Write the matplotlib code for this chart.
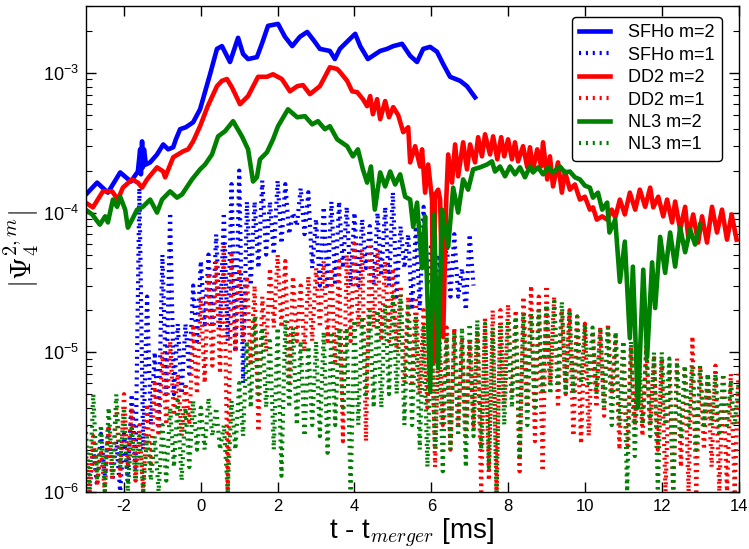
import numpy as np
import matplotlib
matplotlib.use('Agg')
import matplotlib.pyplot as plt

plt.rcParams['font.family'] = ['Liberation Sans', 'DejaVu Sans']
plt.rcParams['axes.unicode_minus'] = False

# ---- m=2 modes (t - t_merger in ms, |Psi4| amplitude) ----
sfho2_t = [-2.99, -2.70, -2.42, -2.10, -1.82, -1.64, -1.58, -1.56, -1.53, -1.51, -1.48, -1.43,
           -1.32, -1.14, -0.98, -0.85, -0.72, -0.65, -0.54, -0.39, -0.20, -0.02,
           0.24, 0.42, 0.55, 0.76, 0.97, 1.10, 1.23, 1.46, 1.59, 1.75,
           2.01, 2.19, 2.38, 2.58, 2.77, 2.95, 3.10, 3.36, 3.49, 3.62,
           3.83, 3.94, 4.02, 4.15, 4.35, 4.48, 4.67, 4.85, 5.01, 5.24,
           5.45, 5.63, 5.79, 5.97, 6.15, 6.31, 6.49, 6.75, 6.93, 7.14]
sfho2_a = [1.35e-4, 1.64e-4, 1.39e-4, 1.94e-4, 1.67e-4, 1.97e-4, 2.84e-4, 1.88e-4, 3.24e-4, 2.11e-4, 2.84e-4, 2.21e-4,
           2.29e-4, 2.61e-4, 3.08e-4, 2.84e-4, 2.94e-4, 3.35e-4, 3.96e-4, 4.09e-4, 4.44e-4, 5.5e-4,
           9.8e-4, 1.49e-3, 1.56e-3, 1.20e-3, 1.79e-3, 1.37e-3, 1.26e-3, 1.30e-3, 1.62e-3, 2.18e-3,
           2.25e-3, 1.82e-3, 1.56e-3, 1.82e-3, 1.97e-3, 1.70e-3, 1.49e-3, 1.44e-3, 1.26e-3, 1.49e-3,
           1.70e-3, 1.82e-3, 1.91e-3, 1.56e-3, 1.26e-3, 1.33e-3, 1.44e-3, 1.49e-3, 1.56e-3, 1.62e-3,
           1.33e-3, 1.20e-3, 1.49e-3, 1.54e-3, 1.42e-3, 1.16e-3, 9.4e-4, 8.8e-4, 8.05e-4, 6.7e-4]

dd22_t = [-3.00, -2.81, -2.55, -2.31, -2.16, -2.03, -1.79, -1.64, -1.53, -1.40,
          -1.14, -0.98, -0.93, -0.72, -0.46, -0.33, -0.20, -0.02, 0.18, 0.42,
          0.55, 0.68, 0.81, 1.02, 1.23, 1.49, 1.72, 1.88, 2.11, 2.32,
          2.51, 2.66, 2.84, 3.10, 3.36, 3.55, 3.62, 3.81, 3.94, 4.07,
          4.22, 4.33, 4.41, 4.48, 4.59, 4.67, 4.80, 4.90, 5.01, 5.14,
          5.27, 5.40, 5.45, 5.58, 5.71, 5.76, 5.84, 5.92, 6.02, 6.05,
          6.10, 6.18, 6.23, 6.31, 6.39, 6.44, 6.54, 6.62, 6.70, 6.83,
          6.93, 7.01, 7.14, 7.22, 7.32, 7.40, 7.53, 7.61, 7.72, 7.82,
          7.90, 8.00, 8.10, 8.18, 8.26, 8.39, 8.50, 8.57, 8.65, 8.76,
          8.86, 8.91, 9.02, 9.09, 9.17, 9.30, 9.40, 9.48, 9.61, 9.74,
          9.87, 10.00, 10.13, 10.21, 10.31, 10.45, 10.58, 10.70, 10.79, 10.91,
          11.04, 11.17, 11.31, 11.43, 11.57, 11.70, 11.78, 11.91, 12.04, 12.14,
          12.27, 12.35, 12.48, 12.61, 12.69, 12.82, 12.95, 13.05, 13.18, 13.31,
          13.44, 13.57, 13.70, 13.82, 13.95]
dd22_a = [1.18e-4, 1.09e-4, 1.42e-4, 1.42e-4, 1.24e-4, 1.51e-4, 1.73e-4, 1.64e-4, 1.51e-4, 1.73e-4,
          2.11e-4, 1.97e-4, 1.79e-4, 2.49e-4, 2.75e-4, 2.84e-4, 3.24e-4, 4.16e-4, 5.79e-4, 8.05e-4,
          8.8e-4, 9.06e-4, 7.9e-4, 5.98e-4, 6.84e-4, 9.4e-4, 9.4e-4, 9.8e-4, 9.06e-4, 7.4e-4,
          8.05e-4, 8.2e-4, 7.06e-4, 8.05e-4, 1.10e-3, 1.07e-3, 1.02e-3, 8.8e-4, 7.4e-4, 7.3e-4,
          6.5e-4, 5.79e-4, 6.84e-4, 5.07e-4, 6.5e-4, 4.67e-4, 6.3e-4, 4.82e-4, 5.7e-4, 4.99e-4,
          3.77e-4, 4.09e-4, 2.29e-4, 2.99e-4, 2.14e-4, 2.84e-4, 1.39e-4, 2.21e-4, 1.24e-4, 8.3e-6,
          1.35e-4, 1.46e-4, 1.24e-4, 1.28e-5, 1.24e-4, 2.61e-4, 1.64e-4, 3.08e-4, 1.82e-4, 3.19e-4,
          2.04e-4, 3.08e-4, 2.29e-4, 3.47e-4, 2.53e-4, 3.64e-4, 2.61e-4, 3.52e-4, 2.41e-4, 3.47e-4,
          2.53e-4, 3.35e-4, 2.41e-4, 3.19e-4, 2.33e-4, 2.99e-4, 2.11e-4, 2.94e-4, 2.04e-4, 2.84e-4,
          2.14e-4, 3.19e-4, 1.73e-4, 2.53e-4, 1.54e-4, 2.29e-4, 1.39e-4, 1.97e-4, 1.46e-4, 1.59e-4,
          1.24e-4, 1.30e-4, 1.05e-4, 1.09e-4, 8.9e-5, 9.4e-5, 8.9e-5, 1.05e-4, 9.2e-5, 1.24e-4,
          9.7e-5, 1.39e-4, 1.05e-4, 1.46e-4, 1.10e-4, 1.51e-4, 1.09e-4, 1.30e-4, 9.4e-5, 1.24e-4,
          8.5e-5, 1.20e-4, 7.55e-5, 1.10e-4, 6.7e-5, 9.7e-5, 6.1e-5, 9.4e-5, 6.1e-5, 1.10e-4,
          7.2e-5, 1.05e-4, 6.4e-5, 9.7e-5, 6.4e-5]

nl32_t = [-3.00, -2.83, -2.63, -2.49, -2.42, -2.29, -2.18, -2.10, -1.97, -1.90,
          -1.79, -1.66, -1.51, -1.32, -1.14, -1.01, -0.80, -0.62, -0.49, -0.23,
          -0.02, 0.11, 0.29, 0.45, 0.63, 0.84, 1.07, 1.23, 1.36, 1.46,
          1.54, 1.72, 1.88, 2.01, 2.27, 2.51, 2.71, 2.90, 3.05, 3.23,
          3.36, 3.55, 3.81, 3.96, 4.09, 4.22, 4.33, 4.43, 4.53, 4.67,
          4.80, 4.93, 5.06, 5.19, 5.32, 5.45, 5.53, 5.63, 5.76, 5.84,
          5.97, 6.07, 6.18, 6.28, 6.44, 6.57, 6.70, 6.83, 6.96, 7.09,
          7.27, 7.45, 7.58, 7.66, 7.79, 7.92, 8.05, 8.18, 8.31, 8.44,
          8.57, 8.65, 8.78, 8.91, 9.05, 9.17, 9.35, 9.48, 9.61, 9.74,
          9.87, 10.00, 10.13, 10.21, 10.34, 10.45, 10.58, 10.64, 10.79, 10.91,
          11.04, 11.17, 11.25, 11.38, 11.52, 11.62, 11.75, 11.83, 11.96, 12.09,
          12.22, 12.35, 12.48, 12.61, 12.74, 12.87, 13.00]
nl32_a = [1.05e-4, 9.7e-5, 8.2e-5, 9.4e-5, 8.5e-5, 1.24e-4, 1.10e-4, 1.30e-4, 1.05e-4, 7.8e-5,
          8.9e-5, 1.05e-4, 1.10e-4, 1.24e-4, 1.0e-4, 1.24e-4, 1.42e-4, 1.28e-4, 1.35e-4, 1.73e-4,
          2.04e-4, 2.21e-4, 2.61e-4, 3.52e-4, 3.83e-4, 4.52e-4, 3.52e-4, 2.84e-4, 1.67e-4, 1.79e-4,
          2.41e-4, 2.70e-4, 3.35e-4, 4.16e-4, 5.5e-4, 4.82e-4, 4.91e-4, 4.29e-4, 4.52e-4, 3.96e-4,
          4.16e-4, 3.35e-4, 2.99e-4, 2.53e-4, 2.84e-4, 2.04e-4, 1.64e-4, 2.14e-4, 1.05e-4, 1.94e-4,
          1.54e-4, 1.97e-4, 1.59e-4, 1.88e-4, 1.30e-4, 1.24e-4, 7.9e-5, 1.18e-4, 4.0e-5, 9.4e-5,
          5.3e-6, 9.7e-5, 7.8e-6, 1.05e-4, 5.7e-5, 1.51e-4, 1.0e-4, 1.73e-4, 1.46e-4, 2.04e-4,
          2.11e-4, 2.21e-4, 2.33e-4, 1.97e-4, 2.14e-4, 1.82e-4, 2.14e-4, 1.88e-4, 2.11e-4, 1.79e-4,
          2.14e-4, 1.94e-4, 2.11e-4, 1.88e-4, 2.11e-4, 1.94e-4, 2.14e-4, 1.94e-4, 1.97e-4, 1.79e-4,
          1.73e-4, 1.56e-4, 1.51e-4, 1.28e-4, 1.39e-4, 1.05e-4, 1.18e-4, 7.2e-5, 8.9e-5, 3.19e-5,
          6.2e-5, 1.26e-5, 4.1e-5, 4.0e-6, 3.9e-5, 9.2e-6, 4.4e-5, 2.07e-5, 6.7e-5, 3.7e-5,
          7.2e-5, 4.1e-5, 7.8e-5, 5.2e-5, 7.55e-5, 5.9e-5, 8.2e-5]

# ---- m=1 modes: peak / trough read every 0.1 ms, starting at t = -3 ms ----
m1_t0 = -3.0
m1_dt = 0.1

sfho1_a = [1.6e-6, 1.0e-6, 2.0e-6, 1.1e-6, 2.6e-6, 1.3e-6, 2.8e-6, 1.2e-6, 2.3e-6, 1.0e-6,
           2.6e-6, 1.2e-6, 5e-6, 1.5e-6, 1.5e-4, 2e-6, 2.5e-5, 3e-6, 1e-5, 3e-6,
           5e-5, 5e-6, 1e-4, 5e-6, 1.6e-5, 5e-6, 1.6e-5, 7e-6, 3e-5, 1.2e-5,
           4.5e-5, 1.5e-5, 5e-5, 1.5e-5, 7e-5, 1.5e-5, 1e-4, 1.2e-5, 1.6e-4, 1e-5,
           2e-4, 6e-6, 1.2e-4, 3e-5, 1.2e-4, 4e-5, 1.7e-4, 5e-5, 1.2e-4, 5e-5,
           1.7e-4, 6e-5, 1.6e-4, 7e-5, 1e-4, 8e-5, 1.5e-4, 7e-5, 1.4e-4, 4e-5,
           9e-5, 3e-5, 1.1e-4, 3e-5, 1.2e-4, 3e-5, 1.2e-4, 4e-5, 1.1e-4, 3e-5,
           1e-4, 3e-5, 9e-5, 4e-5, 8e-5, 3e-5, 1e-4, 3.5e-5, 1.1e-4, 3e-5,
           1.4e-4, 2.5e-5, 8e-5, 4e-5, 7e-5, 2e-5, 8e-5, 2e-5, 1.1e-4, 3e-5,
           6e-5, 2.5e-5, 5e-5, 2.5e-5, 6e-5, 2.5e-5, 7e-5, 2.5e-5, 4e-5, 2e-5,
           7e-5, 3e-5]

dd21_a = [2.0e-6, 1.0e-6, 2.5e-6, 1.1e-6, 2.0e-6, 1.0e-6, 3.0e-6, 1.2e-6, 4.0e-6, 1.3e-6,
          5.0e-6, 1.5e-6, 4.0e-6, 1.2e-6, 3.0e-6, 1.0e-6, 4.0e-6, 1.5e-6, 6.0e-6, 2.5e-6,
          1.0e-5, 3.0e-6, 1.2e-5, 3.5e-6, 7.0e-6, 2.5e-6, 6.0e-6, 3.0e-6, 1.5e-5, 5.0e-6,
          2.5e-5, 6.0e-6, 3.5e-5, 8.0e-6, 4.5e-5, 7.0e-6, 6.0e-5, 1.0e-6, 5.0e-5, 1.0e-5,
          4.0e-5, 1.2e-5, 3.5e-5, 8.0e-6, 3.0e-5, 2.7e-6, 2.5e-5, 1.0e-5, 4.0e-5, 1.5e-5,
          5.0e-5, 1.5e-5, 4.5e-5, 6.0e-6, 3.5e-5, 1.2e-5, 3.0e-5, 1.0e-5, 3.5e-5, 1.2e-5,
          4.0e-5, 1.5e-5, 4.5e-5, 1.2e-5, 4.0e-5, 8.0e-6, 4.5e-5, 2.3e-6, 5.0e-5, 1.2e-5,
          6.0e-5, 1.5e-5, 5.5e-5, 2.3e-6, 6.0e-5, 1.5e-5, 5.5e-5, 1.2e-5, 4.5e-5, 1.2e-5,
          4.0e-5, 1.0e-5, 3.0e-5, 6.0e-6, 2.5e-5, 6.0e-6, 2.5e-5, 5.0e-6, 2.0e-5, 4.0e-6,
          2.0e-5, 1.5e-6, 1.8e-5, 3.0e-6, 1.5e-5, 2.0e-6, 1.5e-5, 3.0e-6, 1.2e-5, 2.5e-6,
          1.2e-5, 3.0e-6, 1.5e-5, 1.0e-6, 1.8e-5, 1.2e-6, 2.0e-5, 1.0e-6, 2.0e-5, 4.0e-6,
          2.2e-5, 5.0e-6, 2.0e-5, 1.4e-6, 2.5e-5, 4.0e-6, 3.0e-5, 2.3e-6, 2.5e-5, 1.4e-6,
          3.0e-5, 6.0e-6, 2.5e-5, 4.0e-6, 2.0e-5, 5.0e-6, 2.0e-5, 2.5e-6, 1.8e-5, 2.2e-6,
          1.6e-5, 2.5e-6, 1.4e-5, 4.0e-6, 1.5e-5, 3.5e-6, 1.6e-5, 5.0e-6, 1.3e-5, 2.0e-6,
          1.2e-5, 2.0e-6, 1.1e-5, 3.0e-6, 1.0e-5, 2.5e-6, 1.1e-5, 3.0e-6, 9.0e-6, 2.0e-6,
          9.0e-6, 1.0e-6, 8.0e-6, 1.0e-6, 9.0e-6, 1.5e-6, 8.0e-6, 1.0e-6, 1.3e-5, 1.0e-6,
          8.0e-6, 2.0e-6, 7.0e-6, 1.5e-6, 8.0e-6, 1.0e-6, 7.0e-6, 1.0e-6, 7.0e-6, 1.0e-6,
          7.0e-6]

nl31_a = [3.0e-6, 1.0e-6, 5.0e-6, 1.2e-6, 3.0e-6, 1.0e-6, 4.0e-6, 1.3e-6, 5.0e-6, 1.5e-6,
          4.0e-6, 1.0e-6, 3.0e-6, 1.2e-6, 2.5e-6, 1.0e-6, 2.5e-6, 1.2e-6, 2.5e-6, 1.0e-6,
          3.0e-6, 1.2e-6, 4.0e-6, 1.5e-6, 4.5e-6, 1.2e-6, 4.0e-6, 1.5e-6, 4.5e-6, 2.0e-6,
          4.0e-6, 2.0e-6, 4.7e-6, 2.5e-6, 4.0e-6, 2.0e-6, 3.0e-6, 1.0e-6, 4.5e-6, 2.0e-6,
          6.0e-6, 2.5e-6, 1.2e-5, 4.0e-6, 1.8e-5, 5.0e-6, 1.5e-5, 4.0e-6, 1.2e-5, 2.0e-6,
          1.5e-5, 1.3e-6, 1.7e-5, 4.0e-6, 1.5e-5, 3.0e-6, 1.2e-5, 2.5e-6, 1.1e-5, 3.0e-6,
          1.2e-5, 2.5e-6, 1.4e-5, 1.9e-6, 1.4e-5, 3.0e-6, 1.5e-5, 4.0e-6, 1.5e-5, 1.0e-6,
          1.7e-5, 3.0e-6, 1.8e-5, 5.0e-6, 2.0e-5, 4.0e-6, 2.0e-5, 4.0e-6, 2.2e-5, 5.0e-6,
          2.5e-5, 5.0e-6, 2.6e-5, 3.0e-6, 2.2e-5, 3.0e-6, 1.8e-5, 2.0e-6, 1.5e-5, 1.5e-6,
          1.5e-5, 2.0e-6, 1.5e-5, 1.4e-6, 1.3e-5, 2.0e-6, 1.4e-5, 2.5e-6, 1.5e-5, 1.5e-6,
          1.6e-5, 2.5e-6, 1.7e-5, 2.0e-6, 1.6e-5, 1.5e-6, 1.5e-5, 1.0e-6, 1.6e-5, 3.0e-6,
          1.7e-5, 4.0e-6, 1.8e-5, 1.7e-6, 1.9e-5, 3.0e-6, 1.9e-5, 4.0e-6, 2.0e-5, 5.0e-6,
          2.2e-5, 5.0e-6, 2.3e-5, 6.0e-6, 2.3e-5, 5.0e-6, 2.0e-5, 5.0e-6, 1.8e-5, 6.0e-6,
          1.6e-5, 6.0e-6, 1.5e-5, 5.0e-6, 1.5e-5, 4.0e-6, 1.5e-5, 3.0e-6, 1.4e-5, 3.0e-6,
          1.2e-5, 1.0e-6, 1.2e-5, 1.8e-6, 1.1e-5, 3.0e-6, 1.1e-5, 2.5e-6, 1.0e-5, 1.0e-6,
          1.0e-5, 3.0e-6, 9.0e-6, 1.0e-6, 8.0e-6, 2.5e-6, 8.0e-6, 3.0e-6, 8.0e-6, 2.0e-6,
          8.0e-6, 3.0e-6, 7.0e-6, 3.0e-6, 7.0e-6, 2.5e-6, 7.0e-6, 3.0e-6, 6.0e-6, 3.0e-6,
          6.0e-6]


def m1_times(vals):
    return m1_t0 + m1_dt * np.arange(len(vals))


fig = plt.figure(figsize=(7.49, 5.49), dpi=100)
ax = fig.add_axes([0.1143, 0.1044, 0.8717, 0.8838])

solid_lw = 3.3
dot_lw = 3.0
dots = (0, (0.5, 1.15))

ax.plot(sfho2_t, sfho2_a, color='blue', lw=solid_lw, label='SFHo m=2')
ax.plot(m1_times(sfho1_a), sfho1_a, color='blue', lw=dot_lw, ls=dots, label='SFHo m=1')
ax.plot(dd22_t, dd22_a, color='red', lw=solid_lw, label='DD2 m=2')
ax.plot(m1_times(dd21_a), dd21_a, color='red', lw=dot_lw, ls=dots, label='DD2 m=1')
ax.plot(nl32_t, nl32_a, color='green', lw=solid_lw, label='NL3 m=2')
ax.plot(m1_times(nl31_a), nl31_a, color='green', lw=dot_lw, ls=dots, label='NL3 m=1')

ax.set_yscale('log')
ax.set_xlim(-3, 14)
ax.set_ylim(1e-6, 3e-3)
ax.set_xticks([-2, 0, 2, 4, 6, 8, 10, 12, 14])

ax.tick_params(which='both', direction='in', top=True, right=True)
ax.tick_params(which='major', length=7, width=1)
ax.tick_params(which='minor', length=4, width=0.8)
ax.tick_params(axis='x', labelsize=12, pad=5)
ax.tick_params(axis='y', labelsize=13, pad=5)
for s in ax.spines.values():
    s.set_linewidth(1.0)

ax.set_xlabel(r't - t$_{merger}$ [ms]', fontsize=20, math_fontfamily='cm')
ax.xaxis.set_label_coords(0.5, -0.052)
ax.set_ylabel(r'$|\Psi_4^{2,m}|$', fontsize=21, math_fontfamily='cm')
ax.yaxis.set_label_coords(-0.068, 0.5)

leg = ax.legend(loc='upper right', bbox_to_anchor=(0.9746, 0.978), borderaxespad=0,
                fontsize=13, labelspacing=0.3, handlelength=1.7, handletextpad=1.0,
                fancybox=True, framealpha=1)
leg.get_frame().set_edgecolor('black')
leg.get_frame().set_linewidth(1.0)

fig.savefig('out.png', dpi=100)
